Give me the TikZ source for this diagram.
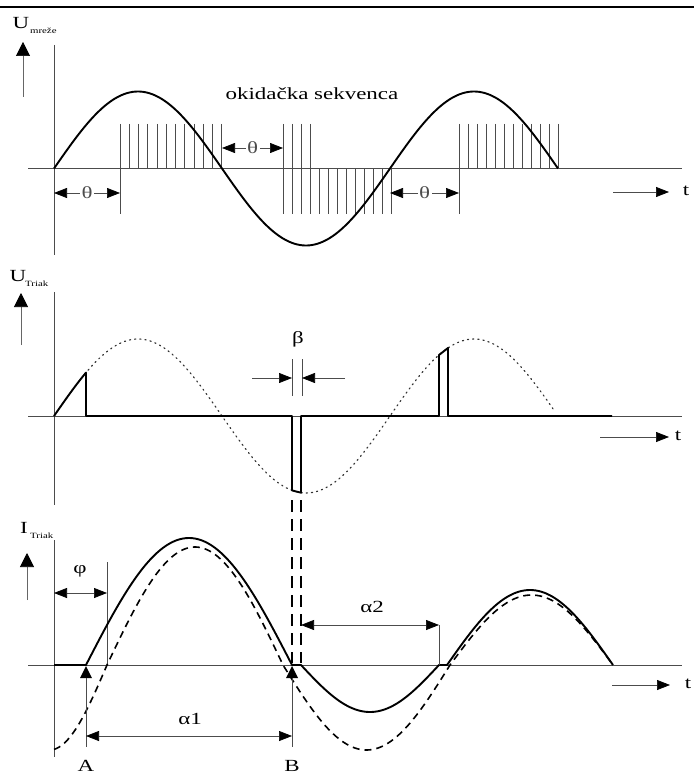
\documentclass[tikz,border=0pt]{standalone}
\usepackage{fontspec}
\setmainfont{Liberation Serif}[FakeStretch=1.35]
\usetikzlibrary{arrows.meta}
\begin{document}
\begin{tikzpicture}[x=1pt,y=-1pt,
  axis/.style={line width=0.8pt,black!70},
  wave/.style={line width=1.9pt,line join=round},
  dwave/.style={line width=1.6pt,dash pattern=on 7pt off 5pt},
  trig/.style={line width=0.9pt,black!70},
  dim/.style={line width=0.7pt,black!70,{Triangle[length=13pt,width=10pt,color=black]}-{Triangle[length=13pt,width=10pt,color=black]}},
  single/.style={line width=0.7pt,black!70,-{Triangle[length=13pt,width=10pt,color=black]}},
  yarrow/.style={line width=0.7pt,black!60,-{Triangle[length=14pt,width=14pt,color=black]}},
  lbl/.style={font=\fontsize{17}{19}\selectfont,inner sep=1pt},
  sublbl/.style={font=\fontsize{8}{9}\selectfont,inner sep=0pt,anchor=west},
  gap/.style={lbl,fill=white,inner sep=1.5pt},
]
\useasboundingbox (0,0) rectangle (694,775);
% top rule
\draw[line width=2.5pt] (0,7) -- (694,7);

% ================= TOP PANEL =================
\draw[axis] (54,45) -- (54,255);
\draw[axis] (28,168.5) -- (682,168.5);
\node[lbl] (U1) at (21,23) {U};
\node[sublbl] (U1s) at (30,31) {mreže};
\coordinate (u1b) at (23,97);
\coordinate (u1t) at (23,42);
\draw[yarrow] (u1b) -- (u1t);
% trigger sequences
\foreach \i in {0,...,11} \draw[trig] ({120+9.25*\i},124) -- ({120+9.25*\i},168.5);
\draw[trig] (120,168.5) -- (120,214);
\foreach \i in {0,...,3} \draw[trig] ({283+9*\i},124) -- ({283+9*\i},214);
\foreach \i in {4,...,12} \draw[trig] ({283+9*\i},168.5) -- ({283+9*\i},214);
\foreach \i in {0,...,11} \draw[trig] ({459+9*\i},124) -- ({459+9*\i},168.5);
\draw[trig] (459,168.5) -- (459,214);
% mains voltage
\draw[wave] plot[domain=54:558,samples=200,smooth] (\x,{168.5-77*sin((\x-54)/336*360)});
% theta markers
\coordinate (th1a) at (54,193); \coordinate (th1b) at (120,193);
\coordinate (th2a) at (222,148); \coordinate (th2b) at (283,148);
\coordinate (th3a) at (390,193); \coordinate (th3b) at (459,193);
\draw[dim] (th1a) -- node[gap] (th1) {θ} (th1b);
\draw[dim] (th2a) -- node[gap] (th2) {θ} (th2b);
\draw[dim] (th3a) -- node[gap] (th3) {θ} (th3b);
\node[lbl] (okid) at (312,94) {okidačka sekvenca};
\coordinate (t1a) at (613,192); \coordinate (t1b) at (669,192);
\draw[single] (t1a) -- (t1b);
\node[lbl] (t1) at (686,191) {t};

% ================= MIDDLE PANEL =================
\draw[axis] (54,292) -- (54,505);
\draw[axis] (28,416) -- (682,416);
\node[lbl] (U2) at (18,276) {U};
\node[sublbl] (U2s) at (25,284) {Triak};
\coordinate (u2b) at (21,345);
\coordinate (u2t) at (21,293);
\draw[yarrow] (u2b) -- (u2t);
\draw[line width=1.2pt,black!80,dash pattern=on 1.2pt off 4pt,line cap=round]
  plot[domain=54:555,samples=200,smooth] (\x,{416-77*sin((\x-54)/336*360)});
\draw[wave] plot[domain=54:86,samples=30,smooth] (\x,{416-77*sin((\x-54)/336*360)})
  -- (86,416) -- (292,416) -- (292,490.4) -- (301,492.7) -- (301,416)
  -- (439,416) -- (439,355) -- (448,348) -- (448,416) -- (612,416);
\draw[line width=1.5pt,dash pattern=on 12pt off 7pt] (292,500) -- (292,663);
\draw[line width=1.5pt,dash pattern=on 12pt off 7pt] (301,500) -- (301,663);
% beta
\draw[axis] (292,359) -- (292,396);
\draw[axis] (302,359) -- (302,396);
\coordinate (b1) at (252,378); \coordinate (b1t) at (292,378);
\coordinate (b2) at (345,378); \coordinate (b2t) at (302,378);
\draw[single] (b1) -- (b1t);
\draw[single] (b2) -- (b2t);
\node[lbl] (beta) at (298,339) {β};
\coordinate (t2a) at (600,437); \coordinate (t2b) at (669,437);
\draw[single] (t2a) -- (t2b);
\node[lbl] (t2) at (678,436) {t};

% ================= BOTTOM PANEL =================
\draw[axis] (54,540) -- (54,757);
\draw[axis] (28,665) -- (682,665);
\node[lbl] (I3) at (24,528) {I};
\node[sublbl] (I3s) at (30,536) {Triak};
\coordinate (i3b) at (27,600);
\coordinate (i3t) at (27,553);
\draw[yarrow] (i3b) -- (i3t);
% phi
\draw[axis] (107,562) -- (107,665);
\coordinate (ph1) at (54,593); \coordinate (ph2) at (107,593);
\draw[dim] (ph1) -- (ph2);
\node[lbl] (phi) at (80,571) {φ};
% dashed current
\draw[dwave] plot[domain=54:107,samples=30,smooth] (\x,{665+85*sin((107-\x)/115*180)})
  -- plot[domain=107:283,samples=80,smooth] (\x,{665-118*sin((\x-107)/176*180)})
  -- plot[domain=283:450,samples=80,smooth] (\x,{665+85*sin((\x-283)/167*180)})
  -- plot[domain=450:613,samples=80,smooth] (\x,{665-70*sin((\x-450)/163*180)});
% solid current
\draw[wave] (54,665) -- (86,665)
  -- plot[domain=86:292,samples=100,smooth] (\x,{665-127*sin((\x-86)/206*180)})
  -- (301,665)
  -- plot[domain=301:439,samples=70,smooth] (\x,{665+47*sin((\x-301)/138*180)})
  -- (447,665)
  -- plot[domain=447:613,samples=80,smooth] (\x,{665-75*sin((\x-447)/166*180)});
% A, B marks
\fill (86,666) -- (80,678) -- (92,678) -- cycle;
\fill (292,666) -- (286,678) -- (298,678) -- cycle;
\draw[axis] (86,678) -- (86,747);
\draw[axis] (292,678) -- (292,747);
\coordinate (a1a) at (86,736); \coordinate (a1b) at (292,736);
\draw[dim] (a1a) -- (a1b);
\node[lbl] (al1) at (190,719) {α1};
\coordinate (a2a) at (301,625); \coordinate (a2b) at (439,625);
\draw[dim] (a2a) -- (a2b);
\draw[axis] (a2b) -- (439,665);
\node[lbl] (al2) at (372,607) {α2};
\node[lbl] (A) at (86,766) {A};
\node[lbl] (B) at (292,766) {B};
\coordinate (t3a) at (612,685); \coordinate (t3b) at (670,685);
\draw[single] (t3a) -- (t3b);
\node[lbl] (t3) at (688,684) {t};
\end{tikzpicture}
\end{document}
